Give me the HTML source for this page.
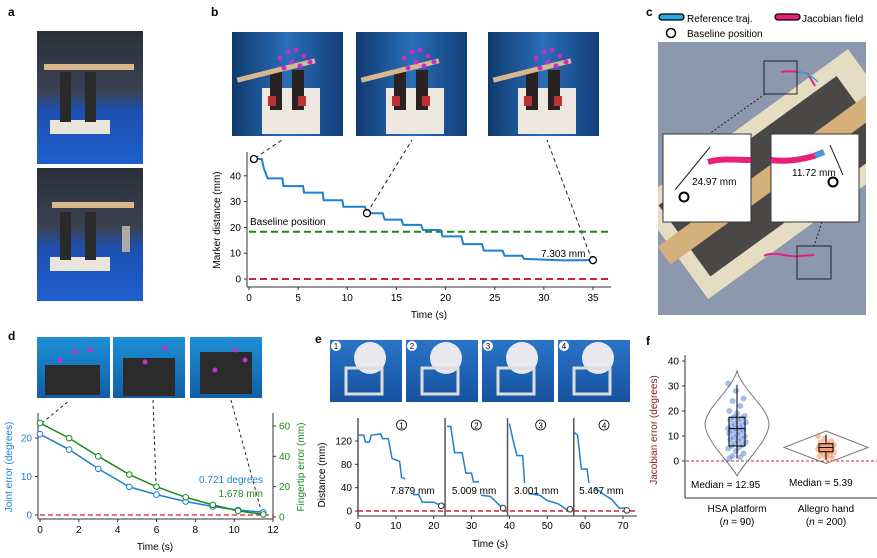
<!DOCTYPE html>
<html><head><meta charset="utf-8"><style>
html,body{margin:0;padding:0;background:#fff;}
svg{display:block;font-family:"Liberation Sans",sans-serif;}
</style></head><body>
<svg id="fig" width="877" height="558" viewBox="0 0 877 558" xmlns="http://www.w3.org/2000/svg">
<defs>
<linearGradient id="gA" x1="0" y1="0" x2="0" y2="1"><stop offset="0" stop-color="#2a2f3a"/><stop offset="0.45" stop-color="#3a4252"/><stop offset="0.6" stop-color="#1d4fb0"/><stop offset="1" stop-color="#1f5fd0"/></linearGradient>
<linearGradient id="gB" x1="0" y1="0" x2="1" y2="0"><stop offset="0" stop-color="#0f3a6e"/><stop offset="0.5" stop-color="#2a6fb8"/><stop offset="1" stop-color="#123e78"/></linearGradient>
<linearGradient id="gD" x1="0" y1="0" x2="0" y2="1"><stop offset="0" stop-color="#1e8fd6"/><stop offset="1" stop-color="#0f5fa6"/></linearGradient>
<linearGradient id="gE" x1="0" y1="0" x2="0" y2="1"><stop offset="0" stop-color="#2a74c8"/><stop offset="1" stop-color="#1552a0"/></linearGradient>
</defs>

<g font-weight="bold" font-size="12" fill="#000">
<text x="8" y="16">a</text>
<text x="211" y="16">b</text>
<text x="646" y="16">c</text>
<text x="8" y="340">d</text>
<text x="315" y="343">e</text>
<text x="646" y="345">f</text>
</g>

<g>
<rect x="37" y="31" width="106" height="133" fill="url(#gA)"/>
<rect x="37" y="168" width="106" height="133" fill="url(#gA)"/>
<g fill="#e9e4dc"><rect x="50" y="120" width="60" height="14"/><rect x="50" y="257" width="60" height="14"/></g>
<g fill="#2a2a2a"><rect x="60" y="72" width="11" height="50"/><rect x="85" y="72" width="11" height="50"/><rect x="60" y="212" width="11" height="48"/><rect x="85" y="212" width="11" height="48"/></g>
<g fill="#d8b88a"><rect x="44" y="64" width="90" height="6"/><rect x="52" y="202" width="82" height="6"/></g>
<rect x="122" y="226" width="8" height="26" fill="#b0aaa0"/>
</g>

<g>
<g id="bp">
<rect x="232" y="32" width="111" height="104" fill="url(#gB)"/>
<rect x="262" y="88" width="58" height="46" fill="#eee8e0"/>
<rect x="270" y="70" width="12" height="40" fill="#2a2222"/><rect x="292" y="70" width="12" height="40" fill="#2a2222"/>
<rect x="268" y="96" width="8" height="10" fill="#c03030"/><rect x="298" y="96" width="8" height="10" fill="#c03030"/>
<rect x="236" y="68" width="80" height="5" fill="#d8b88a" transform="rotate(-14 276 70)"/>
<g fill="#c030d0"><circle cx="280" cy="58" r="2.5"/><circle cx="288" cy="52" r="2.5"/><circle cx="296" cy="50" r="2.5"/><circle cx="304" cy="56" r="2.5"/><circle cx="292" cy="62" r="2.5"/><circle cx="300" cy="66" r="2.5"/><circle cx="284" cy="68" r="2.5"/><circle cx="310" cy="62" r="2.5"/></g>
</g>
<use href="#bp" x="124"/>
<use href="#bp" x="256"/>
</g>
<g stroke="#222" stroke-width="1" stroke-dasharray="4,3" fill="none">
<line x1="255" y1="158" x2="282" y2="140"/><line x1="367" y1="213" x2="412" y2="140"/><line x1="592" y1="260" x2="547" y2="140"/>
</g>
<g id="chartB"></g>

<g>
<rect x="659" y="14" width="25" height="6" rx="3" fill="#29a8e0" stroke="#000" stroke-width="1.3"/>
<text x="687" y="22" font-size="10">Reference traj.</text>
<rect x="775" y="14" width="25" height="6" rx="3" fill="#e8207a" stroke="#000" stroke-width="1.3"/>
<text x="802" y="22" font-size="10">Jacobian field</text>
<circle cx="671" cy="33" r="4.5" fill="#fff" stroke="#000" stroke-width="1.5"/>
<text x="687" y="37" font-size="10">Baseline position</text>
</g>
<g>
<clipPath id="cc"><rect x="658" y="42" width="208" height="273"/></clipPath>
<g clip-path="url(#cc)">
<rect x="658" y="42" width="208" height="273" fill="#8c98ae"/>
<rect x="650" y="120" width="260" height="120" fill="#e6dcc2" transform="rotate(-36 770 180)"/>
<rect x="665" y="135" width="220" height="88" fill="#4a4846" transform="rotate(-36 770 180)"/>
<rect x="640" y="168" width="260" height="22" fill="#d6b07a" transform="rotate(-36 770 180)"/>
</g>
<path d="M781,72 C790,70 800,72 808,74 L815,86" stroke="#e8207a" stroke-width="2" fill="none"/>
<path d="M796,72 C805,72 812,76 818,82" stroke="#29a8e0" stroke-width="1.5" fill="none"/>
<path d="M764,256 C775,250 785,258 800,256 L814,255" stroke="#e8207a" stroke-width="2" fill="none"/>
<rect x="764" y="61" width="33" height="33" fill="none" stroke="#222"/>
<rect x="797" y="246" width="34" height="33" fill="none" stroke="#222"/>
<line x1="765" y1="94" x2="709" y2="134" stroke="#222" stroke-dasharray="2,2"/>
<line x1="822" y1="222" x2="814" y2="246" stroke="#222" stroke-dasharray="2,2"/>
<rect x="663" y="134" width="88" height="88" fill="#fff" stroke="#333"/>
<rect x="771" y="134" width="88" height="88" fill="#fff" stroke="#333"/>
<path d="M708,162 C720,158 735,160 751,160" stroke="#e8207a" stroke-width="6" fill="none"/>
<path d="M771,160 C785,162 800,160 814,156 L824,152" stroke="#e8207a" stroke-width="6" fill="none"/>
<path d="M815,156 L824,152" stroke="#29a8e0" stroke-width="5"/>
<line x1="675" y1="190" x2="710" y2="147" stroke="#222"/>
<line x1="830" y1="145" x2="843" y2="175" stroke="#222"/>
<circle cx="684" cy="197" r="4.5" fill="none" stroke="#000" stroke-width="2"/>
<circle cx="833" cy="182" r="4.5" fill="none" stroke="#000" stroke-width="2"/>
<text x="692" y="185" font-size="10">24.97 mm</text>
<text x="792" y="176" font-size="10">11.72 mm</text>
</g>

<g>
<rect x="37" y="337" width="73" height="61" fill="url(#gD)"/>
<rect x="113" y="337" width="72" height="61" fill="url(#gD)"/>
<rect x="190" y="337" width="72" height="61" fill="url(#gD)"/>
<rect x="45" y="365" width="55" height="30" fill="#2b2b2b"/>
<rect x="123" y="358" width="52" height="38" fill="#2b2b2b"/>
<rect x="200" y="352" width="52" height="42" fill="#2b2b2b"/>
<g fill="#c030d0"><circle cx="60" cy="360" r="2.5"/><circle cx="75" cy="352" r="2.5"/><circle cx="90" cy="350" r="2.5"/><circle cx="145" cy="362" r="2.5"/><circle cx="165" cy="348" r="2.5"/><circle cx="215" cy="370" r="2.5"/><circle cx="235" cy="350" r="2.5"/><circle cx="245" cy="360" r="2.5"/></g>
</g>
<g stroke="#222" stroke-width="1" stroke-dasharray="3,3" fill="none">
<line x1="42" y1="423" x2="70" y2="400"/><line x1="153" y1="400" x2="156" y2="485"/><line x1="231" y1="400" x2="262" y2="514"/>
</g>
<g id="chartD"></g>

<g>
<g id="ep">
<rect x="330" y="340" width="72" height="62" fill="url(#gE)"/>
<circle cx="370" cy="358" r="16" fill="#e8e8ee"/>
<rect x="346" y="368" width="36" height="26" fill="none" stroke="#ddd" stroke-width="3"/>
<circle cx="336" cy="346" r="5" fill="#fff"/>
</g>
<use href="#ep" x="76"/><use href="#ep" x="152"/><use href="#ep" x="228"/>
<g font-size="8" text-anchor="middle"><text x="336" y="349">1</text><text x="412" y="349">2</text><text x="488" y="349">3</text><text x="564" y="349">4</text></g>
</g>
<g id="chartE"></g>

<g id="chartF"></g>
</svg>
<script>
const NS="http://www.w3.org/2000/svg";
function mk(p,tag,attrs,txt){const e=document.createElementNS(NS,tag);for(const k in attrs)e.setAttribute(k,attrs[k]);if(txt!==undefined)e.textContent=txt;p.appendChild(e);return e;}

const bTimes=[0.5,1.3,1.5,1.9,3.4,3.5,5.5,5.6,7.5,7.6,9.5,9.6,11.8,12,13.6,13.8,15.5,15.7,17.5,17.7,19.5,19.7,21.6,21.8,23.7,23.9,25.8,26,27.8,28,30,32,35];
const bDist=[46.5,46.5,43,39,39,36,36,33.5,33.5,30.5,30.5,28,28,25.5,25.5,23,23,21,21,19,19,16.5,16.5,13.5,13.5,11,11,9,9,7.8,7.5,7.2,7.3];
const bXTicks=[0,5,10,15,20,25,30,35];
const bYTicks=[0,10,20,30,40];
const bBaseline=[18.3];
const bMarkers=[[0.5,46.5],[12,25.5],[35,7.3]];

const dTimes=[0,1.5,3,4.6,6,7.5,8.9,10.2,11.5];
const dJoint=[21,17,12,7.3,5.3,3.5,2.2,1.3,0.7];
const dFinger=[62,52,40,28,20,13,8,4,1.7];
const dXTicks=[0,2,4,6,8,10,12];
const dYTicks=[0,10,20];
const dY2Ticks=[0,20,40,60];

const eSeg1T=[0,1.5,2,3,3.5,6,6.5,8,9,11,11.5,12.5,null,14.5,16,17,20,22];
const eSeg1V=[130,130,118,118,130,132,124,124,90,85,58,55,null,28,28,15,15,9];
const eSeg2T=[23.5,24.5,25.5,27.5,28.5,30,30.5,32,null,32.5,35,37,38.3];
const eSeg2V=[145,145,100,100,65,65,50,50,null,27,25,12,5];
const eSeg3T=[40,41,42,43.5,44,null,45,48,50,53,55,56];
const eSeg3V=[150,120,95,95,48,null,30,27,18,12,3,3];
const eSeg4T=[57,58,59,60.5,61,null,62.5,65,67,69,71];
const eSeg4V=[135,130,72,72,48,null,40,28,20,5,5];
const eXTicks=[0,10,20,30,40,50,60,70];
const eYTicks=[0,40,80,120];
const eDividers=[23,39.5,57];
const eLabels=["7.879 mm","5.009 mm","3.001 mm","5.467 mm"];
const eLabelT=[8.5,24.8,41.2,58.4];
const eEndT=[22,38.3,56,71];
const eEndV=[9,5,3,1];

const fHSA=[31,28,25,24,22,20,19,18,17.5,17,16.5,16,15.5,15,14.5,14,13.5,13,13,12.5,12,11.5,11,10.5,10,9.5,9,8.5,8,7.5,7,6.5,6,5.5,5,4,3,2,1.5,1];
const fAllegro=[10,9,8,7.5,7,6.5,6.2,6,5.8,5.5,5.3,5.1,5,4.8,4.5,4.2,4,3.8,3.5,3,2.5,2,1.5,1];
const fHSABox=[1,6,12.95,17.5,30.5];
const fAlBox=[0.5,3.7,5.39,6.9,10.5];
const fYTicks=[0,10,20,30,40];

(function(){
const g=document.getElementById('chartB');
const x=t=>249+t*(344/35), y=v=>279-v*2.58;
mk(g,'line',{x1:247,y1:152,x2:247,y2:287,stroke:'#333','stroke-width':1});
mk(g,'line',{x1:247,y1:287,x2:611,y2:287,stroke:'#333','stroke-width':1});
bYTicks.forEach(v=>{mk(g,'line',{x1:244,y1:y(v),x2:247,y2:y(v),stroke:'#333'});const t=mk(g,'text',{x:241,y:y(v)+3.5,'font-size':10,'text-anchor':'end'},v);});
bXTicks.forEach(v=>{mk(g,'line',{x1:x(v),y1:287,x2:x(v),y2:290,stroke:'#333'});const t=mk(g,'text',{x:x(v),y:301,'font-size':10,'text-anchor':'middle'},v);});
const xt=mk(g,'text',{x:429,y:318,'font-size':10,'text-anchor':'middle'},'Time (s)');
const yt=mk(g,'text',{x:0,y:0,'font-size':10,'text-anchor':'middle',transform:'translate(220,220) rotate(-90)'},'Marker distance (mm)');
const bl=mk(g,'line',{x1:249,y1:y(bBaseline[0]),x2:611,y2:y(bBaseline[0]),stroke:'#1a8a1a','stroke-width':2,'stroke-dasharray':'7,4'});
const zl=mk(g,'line',{x1:249,y1:y(0),x2:611,y2:y(0),stroke:'#d0203a','stroke-width':2,'stroke-dasharray':'7,4'});
const bt=mk(g,'text',{x:250,y:225,'font-size':10},'Baseline position');
const pts=bTimes.map((t,i)=>x(t)+','+y(bDist[i])).join(' ');
const pl=mk(g,'polyline',{points:pts,fill:'none',stroke:'#1f7fd0','stroke-width':2});
bMarkers.forEach(m=>{const c=mk(g,'circle',{cx:x(m[0]),cy:y(m[1]),r:3.5,fill:'#fff',stroke:'#000','stroke-width':1.3});});
const lt=mk(g,'text',{x:541,y:257,'font-size':10},'7.303 mm');
})();

(function(){
const g=document.getElementById('chartD');
const x=t=>40+t*(233/12), y=v=>515-v*3.85, y2=v=>517-v*(91/60);
mk(g,'line',{x1:38,y1:413,x2:38,y2:519,stroke:'#333'});
mk(g,'line',{x1:38,y1:519,x2:273,y2:519,stroke:'#333'});
mk(g,'line',{x1:273,y1:413,x2:273,y2:519,stroke:'#333'});
dYTicks.forEach(v=>{mk(g,'line',{x1:35,y1:y(v),x2:38,y2:y(v),stroke:'#333'});const t=mk(g,'text',{x:32,y:y(v)+3.5,'font-size':10,'text-anchor':'end',fill:'#1f7fd0'},v);});
dY2Ticks.forEach(v=>{mk(g,'line',{x1:273,y1:y2(v),x2:276,y2:y2(v),stroke:'#333'});const t=mk(g,'text',{x:279,y:y2(v)+3.5,'font-size':10,fill:'#1a8a1a'},v);});
dXTicks.forEach(v=>{mk(g,'line',{x1:x(v),y1:519,x2:x(v),y2:522,stroke:'#333'});const t=mk(g,'text',{x:x(v),y:533,'font-size':10,'text-anchor':'middle'},v);});
const xt=mk(g,'text',{x:155,y:550,'font-size':10,'text-anchor':'middle'},'Time (s)');
const yt=mk(g,'text',{x:0,y:0,'font-size':10,'text-anchor':'middle',fill:'#1f7fd0',transform:'translate(12,467) rotate(-90)'},'Joint error (degrees)');
const y2t=mk(g,'text',{x:0,y:0,'font-size':10,'text-anchor':'middle',fill:'#1a8a1a',transform:'translate(304,467) rotate(-90)'},'Fingertip error (mm)');
const zl=mk(g,'line',{x1:40,y1:y(0),x2:273,y2:y(0),stroke:'#d0203a','stroke-width':1.3,'stroke-dasharray':'5,3'});
const pj=mk(g,'polyline',{points:dTimes.map((t,i)=>x(t)+','+y(dJoint[i])).join(' '),fill:'none',stroke:'#1f7fd0','stroke-width':1.5});
const pf=mk(g,'polyline',{points:dTimes.map((t,i)=>x(t)+','+y2(dFinger[i])).join(' '),fill:'none',stroke:'#1a8a1a','stroke-width':1.5});
dTimes.forEach((t,i)=>{const a=mk(g,'circle',{cx:x(t),cy:y(dJoint[i]),r:2.8,fill:'#fff',stroke:'#1f7fd0','stroke-width':1});
const b=mk(g,'circle',{cx:x(t),cy:y2(dFinger[i]),r:2.8,fill:'#fff',stroke:'#1a8a1a','stroke-width':1});});
const l1=mk(g,'text',{x:263,y:483,'font-size':10,'text-anchor':'end',fill:'#1f7fd0'},'0.721 degrees');
const l2=mk(g,'text',{x:263,y:497,'font-size':10,'text-anchor':'end',fill:'#1a8a1a'},'1.678 mm');
})();

(function(){
const g=document.getElementById('chartE');
const x=t=>358+t*(265/70), y=v=>511-v*(70/120);
mk(g,'line',{x1:358,y1:418,x2:358,y2:516,stroke:'#555','stroke-width':1.5});
mk(g,'line',{x1:358,y1:516,x2:637,y2:516,stroke:'#333'});
eYTicks.forEach(v=>{mk(g,'line',{x1:355,y1:y(v),x2:358,y2:y(v),stroke:'#333'});const t=mk(g,'text',{x:352,y:y(v)+3.5,'font-size':10,'text-anchor':'end'},v);});
eXTicks.forEach(v=>{mk(g,'line',{x1:x(v),y1:516,x2:x(v),y2:519,stroke:'#333'});const t=mk(g,'text',{x:x(v),y:529,'font-size':10,'text-anchor':'middle'},v);});
const xt=mk(g,'text',{x:490,y:547,'font-size':10,'text-anchor':'middle'},'Time (s)');
const yt=mk(g,'text',{x:0,y:0,'font-size':10,'text-anchor':'middle',transform:'translate(325,475) rotate(-90)'},'Distance (mm)');
eDividers.forEach(t=>{const d=mk(g,'line',{x1:x(t),y1:418,x2:x(t),y2:516,stroke:'#555','stroke-width':1.5});});
const zl=mk(g,'line',{x1:358,y1:y(0),x2:637,y2:y(0),stroke:'#d0203a','stroke-width':1.5,'stroke-dasharray':'5,3'});
[[eSeg1T,eSeg1V],[eSeg2T,eSeg2V],[eSeg3T,eSeg3V],[eSeg4T,eSeg4V]].forEach((s,k)=>{
 let d='',pen=false;s[0].forEach((t,i)=>{if(t===null){pen=false;return;}d+=(pen?'L':'M')+x(t)+','+y(s[1][i]);pen=true;});
 const p=mk(g,'path',{d:d,fill:'none',stroke:'#1f7fd0','stroke-width':1.5});
 const c=mk(g,'circle',{cx:x(eEndT[k]),cy:y(eEndV[k]),r:2.8,fill:'#fff',stroke:'#333'});
 const l=mk(g,'text',{x:x(eLabelT[k]),y:494,'font-size':10},eLabels[k]);
 const cx=(k===0?x(0):x(eDividers[k-1]))+ (x(eDividers[k]||73)-(k===0?x(0):x(eDividers[k-1])))/2;
 mk(g,'circle',{cx:cx,cy:425,r:5,fill:'none',stroke:'#000','stroke-width':0.8});
 const n=mk(g,'text',{x:cx,y:428.5,'font-size':8,'text-anchor':'middle'},String(k+1));
});
})();

(function(){
const g=document.getElementById('chartF');
const y=v=>461-v*2.5;
const cx=[737,826];
mk(g,'line',{x1:685,y1:355,x2:685,y2:498,stroke:'#333'});
mk(g,'line',{x1:685,y1:498,x2:877,y2:498,stroke:'#333'});
fYTicks.forEach(v=>{mk(g,'line',{x1:682,y1:y(v),x2:685,y2:y(v),stroke:'#333'});const t=mk(g,'text',{x:679,y:y(v)+3.5,'font-size':10,'text-anchor':'end'},v);});
const yt=mk(g,'text',{x:0,y:0,'font-size':10,'text-anchor':'middle',fill:'#7a2020',transform:'translate(657,430) rotate(-90)'},'Jacobian error (degrees)');
const zl=mk(g,'line',{x1:686,y1:y(0),x2:877,y2:y(0),stroke:'#d0203a','stroke-width':1,'stroke-dasharray':'3,2'});
const v1=mk(g,'path',{d:`M${cx[0]},${y(36)} C${cx[0]+6},${y(28)} ${cx[0]+30},${y(22)} ${cx[0]+32},${y(15)} C${cx[0]+32},${y(8)} ${cx[0]+8},${y(0)} ${cx[0]},${y(-6)} C${cx[0]-8},${y(0)} ${cx[0]-32},${y(8)} ${cx[0]-32},${y(15)} C${cx[0]-30},${y(22)} ${cx[0]-6},${y(28)} ${cx[0]},${y(36)}Z`,fill:'none',stroke:'#777'});
const v2=mk(g,'path',{d:`M${cx[1]},${y(12)} L${cx[1]+42},${y(5.4)} L${cx[1]},${y(-1)} L${cx[1]-42},${y(5.4)}Z`,fill:'none',stroke:'#777'});
fHSA.forEach((v,i)=>{const c=mk(g,'circle',{cx:cx[0]+((i*7)%17-8)*1.1,cy:y(v),r:3,fill:'#3a6fd0','fill-opacity':0.45});});
fAllegro.forEach((v,i)=>{const c=mk(g,'circle',{cx:cx[1]+((i*5)%13-6)*1.3,cy:y(v),r:3,fill:'#f07a3a','fill-opacity':0.45});});
[[fHSABox,cx[0],8,'hsa'],[fAlBox,cx[1],7,'allegro']].forEach(b=>{const [q,c,w,n]=b;
 mk(g,'line',{x1:c,y1:y(q[0]),x2:c,y2:y(q[4]),stroke:'#000'});
 const r=mk(g,'rect',{x:c-w,y:y(q[3]),width:2*w,height:y(q[1])-y(q[3]),fill:n==='allegro'?'#f2a070':'none',stroke:'#000'});
 mk(g,'line',{x1:c-w,y1:y(q[2]),x2:c+w,y2:y(q[2]),stroke:'#000'});
});
const m1=mk(g,'text',{x:691,y:488,'font-size':10},'Median = 12.95');
const m2=mk(g,'text',{x:789,y:486,'font-size':10},'Median = 5.39');
const a1=mk(g,'text',{x:737,y:512,'font-size':10,'text-anchor':'middle'},'HSA platform');
const a2=mk(g,'text',{x:737,y:525,'font-size':10,'text-anchor':'middle'});a2.innerHTML='(<tspan font-style="italic">n</tspan> = 90)';
const b1=mk(g,'text',{x:826,y:512,'font-size':10,'text-anchor':'middle'},'Allegro hand');
const b2=mk(g,'text',{x:826,y:525,'font-size':10,'text-anchor':'middle'});b2.innerHTML='(<tspan font-style="italic">n</tspan> = 200)';
})();
</script>
</body></html>
